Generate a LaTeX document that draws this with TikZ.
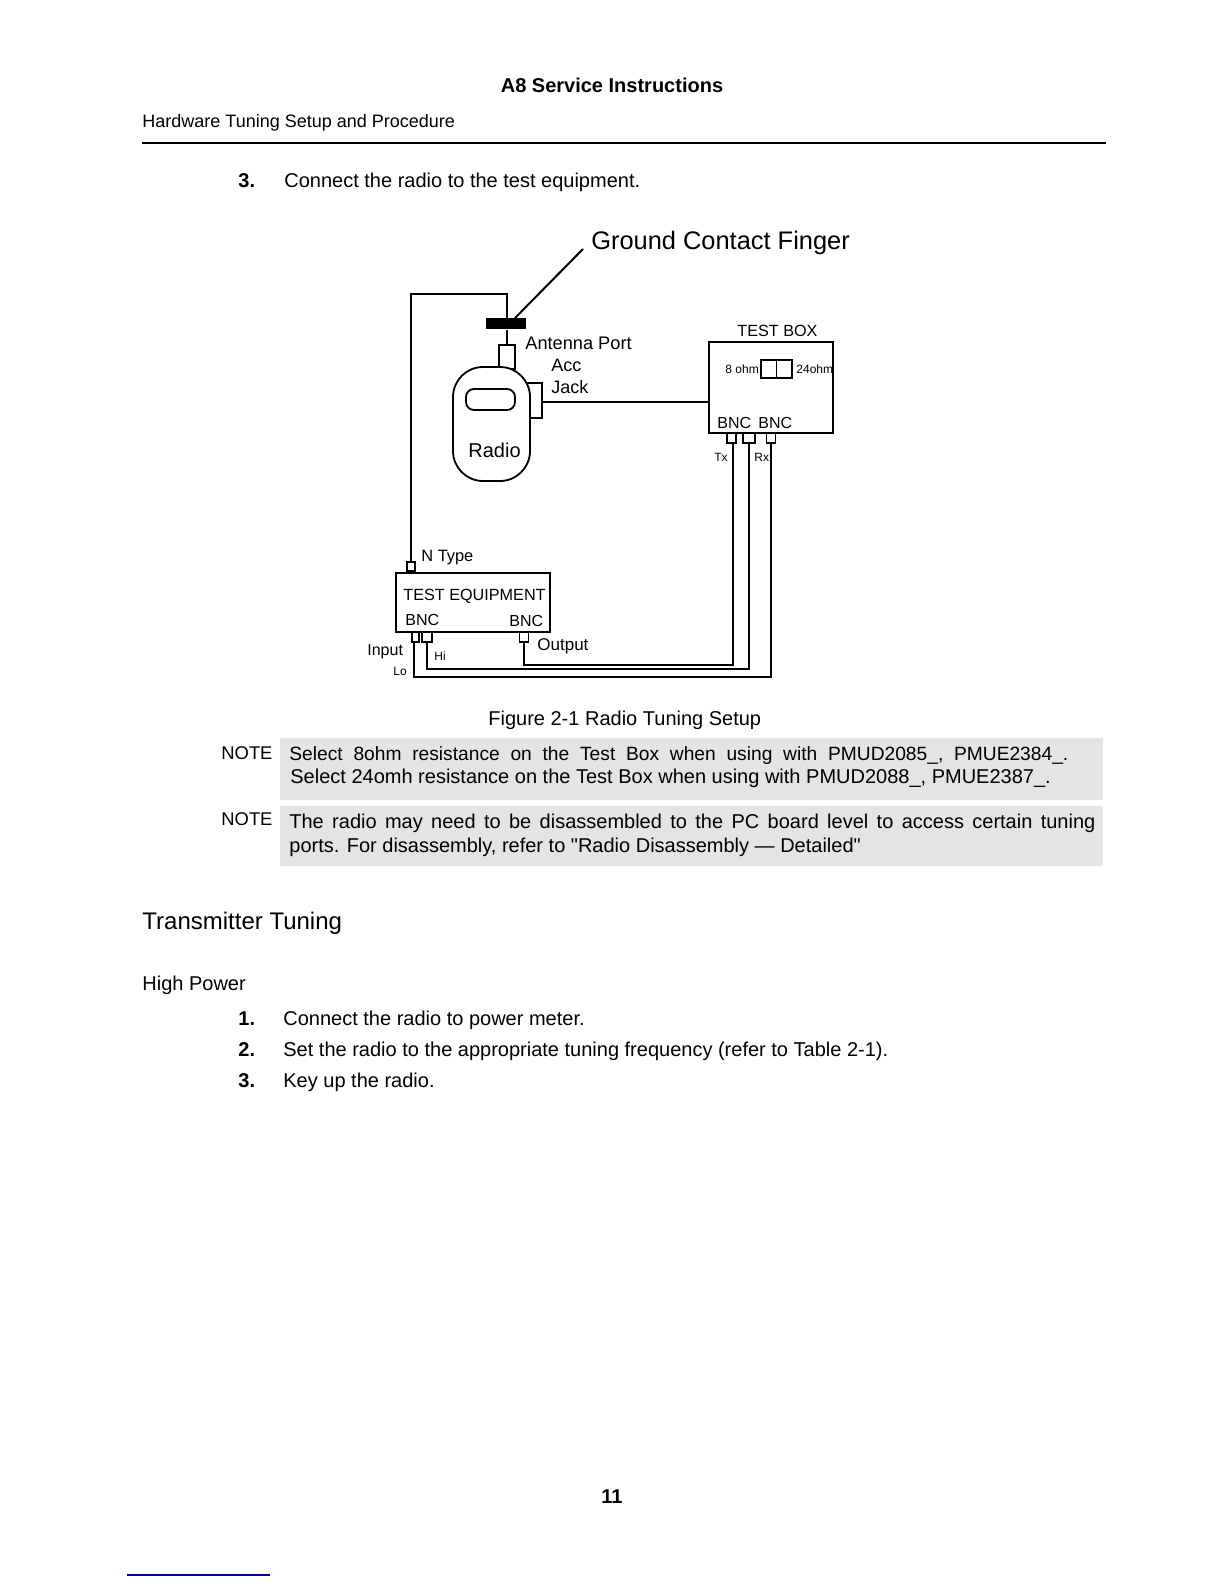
\documentclass[tikz,border=0pt]{standalone}
\usepackage{fontspec}
\setmainfont{Liberation Sans}
\newfontfamily\straightquote{Liberation Sans}
\usetikzlibrary{positioning}
\definecolor{notegray}{gray}{0.895}
\definecolor{linkblue}{RGB}{0,0,140}
\tikzset{
    wire/.style={black, line width=0.9pt},
    port/.style={draw=black, line width=0.9pt, fill=white, minimum width=0pt, minimum height=0pt, inner sep=0pt},
    lbl/.style={inner sep=0pt, anchor=base west, font=\fontsize{9}{9}\selectfont},
    tiny/.style={inner sep=0pt, anchor=base west, font=\fontsize{6}{6}\selectfont},
    bnc/.style={inner sep=0pt, anchor=base west, font=\fontsize{8}{8}\selectfont},
    body/.style={inner sep=0pt, anchor=base west, font=\fontsize{10}{10}\selectfont},
    numb/.style={inner sep=0pt, anchor=base west, font=\fontsize{10}{10}\selectfont\bfseries},
    notebox/.style={inner sep=0pt, fill=notegray, anchor=north west},
}
\begin{document}
\begin{tikzpicture}[x=0.5pt, y=-0.5pt]
        \useasboundingbox (0,0) rectangle (1224,1584);
        % page head
        \node[numb, anchor=base] (title) at (612, 93) {A8 Service Instructions};
        \node[body, font=\fontsize{9}{9}\selectfont] (section) at (142, 127) {Hardware Tuning Setup and Procedure};
        \coordinate (ruleL) at (142, 143);
        \coordinate (ruleR) at (1106, 143);
        \draw[black, line width=0.8pt] (ruleL) -- (ruleR);
        \node[numb] (stepthree) at (238, 187) {3.};
        \node[body] (steptext) at (284, 187) {Connect the radio to the test equipment.};
        % radio
        \node[port, anchor=south, minimum width=8pt, minimum height=12pt] (antenna) at (507, 370) {};
        \node[port, anchor=north east, minimum width=12pt, minimum height=17.5pt] (acc) at (543, 382) {};
        \node[draw=black, fill=white, line width=0.9pt, rounded corners=15pt, minimum width=38.5pt, minimum height=57pt, inner sep=0pt] (radio) at (491.5, 424) {};
        \node[draw=black, line width=0.9pt, rounded corners=4pt, minimum width=24.5pt, minimum height=10.5pt, inner sep=0pt] (window) at (490.5, 399.5) {};
        \node[lbl, font=\fontsize{10}{10}\selectfont] (radiotext) at (468, 457) {Radio};
        % test box
        \node[draw=black, line width=0.9pt, anchor=north west, minimum width=62pt, minimum height=45.5pt, inner sep=0pt] (testbox) at (708, 341) {};
        \node[lbl, font=\fontsize{8.1}{8.1}\selectfont] (testboxtext) at (737, 336) {TEST BOX};
        \node[draw=black, line width=0.9pt, anchor=north west, minimum width=15.5pt, minimum height=9pt, inner sep=0pt] (switch) at (760, 359) {};
        \draw[wire] (switch.north) -- (switch.south);
        \node[tiny] (eightohm) at (725, 373) {8 ohm};
        \node[tiny] (twentyfour) at (796, 373) {24ohm};
        \node[bnc] (bncone) at (717, 428) {BNC};
        \node[bnc] (bnctwo) at (758, 428) {BNC};
        \node[port, anchor=north, minimum width=4.5pt, minimum height=5pt] (txport) at (731.5, 432) {};
        \node[port, anchor=north, minimum width=6pt, minimum height=5pt] (midport) at (749, 432) {};
        \node[port, anchor=north, minimum width=4.5pt, minimum height=5pt] (rxport) at (771, 432) {};
        \node[tiny] (txtext) at (714, 461) {Tx};
        \node[tiny] (rxtext) at (754, 461) {Rx};
        % test equipment
        \node[draw=black, line width=0.9pt, anchor=north west, minimum width=77pt, minimum height=29.5pt, inner sep=0pt] (testeq) at (395, 572) {};
        \node[lbl, font=\fontsize{8.1}{8.1}\selectfont] (testeqtext) at (403, 600) {TEST EQUIPMENT};
        \node[bnc] (bncthree) at (405, 625) {BNC};
        \node[bnc] (bncfour) at (509, 626) {BNC};
        \node[port, anchor=south, minimum width=4pt, minimum height=4.5pt] (ntype) at (411, 572) {};
        \node[port, anchor=north, minimum width=3.5pt, minimum height=5pt] (loport) at (415.5, 631) {};
        \node[port, anchor=north, minimum width=5pt, minimum height=5pt] (hiport) at (427, 631) {};
        \node[port, anchor=north, minimum width=4.5pt, minimum height=5pt] (outport) at (524, 631) {};
        \node[lbl, font=\fontsize{8.2}{8.2}\selectfont] (ntypetext) at (421, 561) {N Type};
        \node[lbl, font=\fontsize{8}{8}\selectfont] (inputtext) at (367, 655) {Input};
        \node[lbl, font=\fontsize{8.5}{8.5}\selectfont] (outputtext) at (537, 650) {Output};
        \node[tiny] (hitext) at (434, 660) {Hi};
        \node[tiny] (lotext) at (393, 675) {Lo};
        \node[lbl, font=\fontsize{9.1}{9.1}\selectfont] (anttext) at (525, 349) {Antenna Port};
        \node[lbl] (acctext) at (551, 371) {Acc};
        \node[lbl] (jacktext) at (551, 393) {Jack};
        % ground finger
        \node[fill=black, anchor=north west, minimum width=20pt, minimum height=5.5pt, inner sep=0pt] (finger) at (486, 318) {};
        \node[inner sep=0pt, anchor=base west, font=\fontsize{12.7}{12.7}\selectfont] (fingertext) at (591, 249) {Ground Contact Finger};
        \coordinate (leaderend) at (583, 249);
        \draw[black, line width=1pt] (leaderend) -- (515, 318);
        % wiring
        \coordinate (wiretop) at (411, 294);
        \coordinate (outrun) at (524, 665);
        \coordinate (hirun) at (427, 669);
        \coordinate (lorun) at (414, 677);
        \draw[wire] (antenna.north) -- (antenna.north |- finger.south);
        \draw[wire] (antenna.north |- finger.north) -- (antenna.north |- wiretop) -- (wiretop) -- (ntype.north);
        \draw[wire] ([yshift=-0.75pt]acc.east) -- ([yshift=-0.75pt]acc.east -| testbox.west);
        \draw[wire] ([xshift=0.75pt]txport.south) |- (outrun) -- (outport.south);
        \draw[wire] (midport.south) |- (hirun) -- (hiport.south);
        \draw[wire] (rxport.south) |- (lorun) -- ([xshift=-0.75pt]loport.south);
        % caption and notes
        \node[body] (caption) at (488, 725) {Figure 2-1 Radio Tuning Setup};
        \node[notebox, minimum width=411.5pt, minimum height=31pt] (noteone) at (280, 738) {};
        \node[notebox, minimum width=411.5pt, minimum height=30pt] (notetwo) at (280, 806) {};
        \node[body, font=\fontsize{9.2}{9.2}\selectfont] (noteonehead) at (221, 759) {NOTE};
        \node[body, font=\fontsize{9.2}{9.2}\selectfont] (notetwohead) at (221, 825) {NOTE};
        \node[body, font=\fontsize{9.6}{9.6}\selectfont, text width=389.5pt] (lineone) at (289, 760) {Select\hfill 8ohm\hfill resistance\hfill on\hfill the\hfill Test\hfill Box\hfill when\hfill using\hfill with\hfill PMUD2085\_,\hfill PMUE2384\_.};
        \node[body] (linetwo) at (290, 783) {Select 24omh resistance on the Test Box when using with PMUD2088\_, PMUE2387\_.};
        \node[body, text width=403pt] (linethree) at (289, 828) {The\hfill radio\hfill may\hfill need\hfill to\hfill be\hfill disassembled\hfill to\hfill the\hfill PC\hfill board\hfill level\hfill to\hfill access\hfill certain\hfill tuning};
        \node[body] (linefour) at (289, 852) {ports. For disassembly, refer to {\straightquote"}Radio Disassembly — Detailed{\straightquote"}};
        % lower text
        \node[body, font=\fontsize{12}{12}\selectfont] (tuninghead) at (142, 929) {Transmitter Tuning};
        \node[body] (powerhead) at (142, 990) {High Power};
        \node[numb] (lowone) at (238, 1025) {1.};
        \node[body] (lowonetext) at (283, 1025) {Connect the radio to power meter.};
        \node[numb] (lowtwo) at (238, 1056) {2.};
        \node[body] (lowtwotext) at (283, 1056) {Set the radio to the appropriate tuning frequency (refer to Table 2-1).};
        \node[numb] (lowthree) at (238, 1087) {3.};
        \node[body] (lowthreetext) at (283, 1087) {Key up the radio.};
        % foot
        \node[numb, anchor=base] (pagenum) at (612, 1503) {11};
        \coordinate (linkL) at (127, 1575);
        \coordinate (linkR) at (270, 1575);
        \draw[linkblue, line width=0.6pt] (linkL) -- (linkR);
\end{tikzpicture}
\end{document}
